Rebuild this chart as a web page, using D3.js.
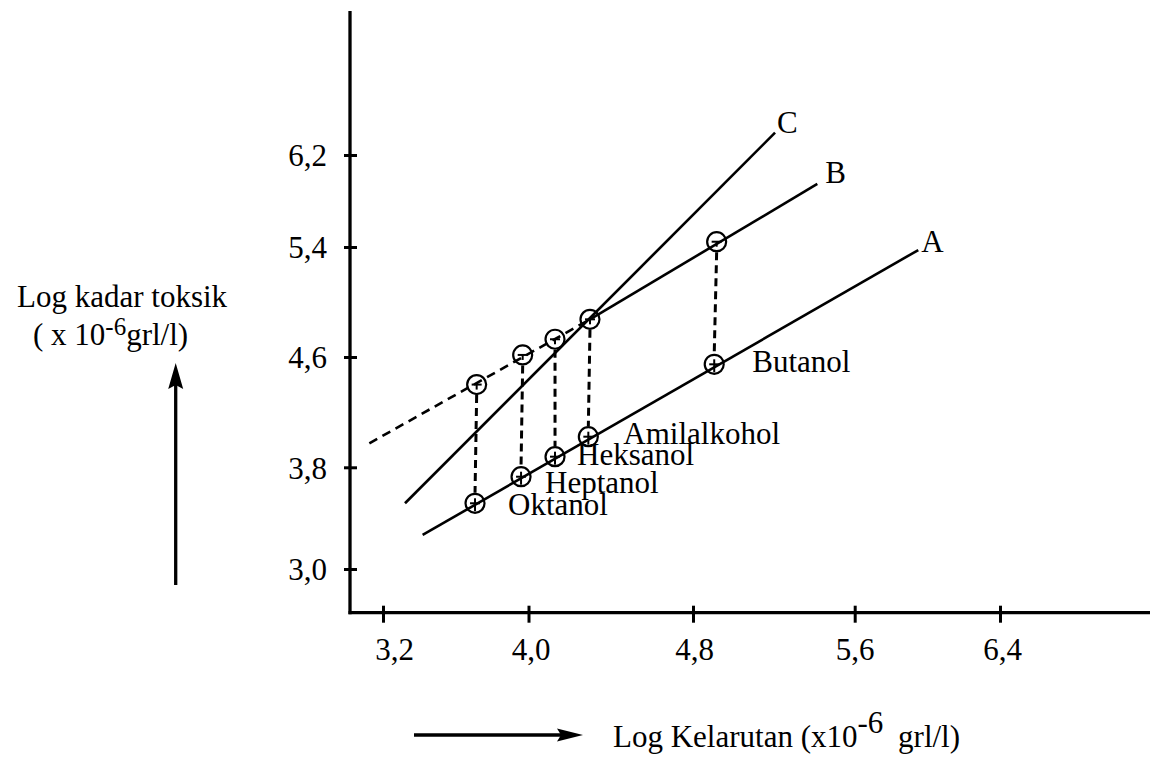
<!DOCTYPE html>
<html>
<head>
<meta charset="utf-8">
<script src="https://cdn.jsdelivr.net/npm/d3@7"></script>
<style>
  html, body { margin: 0; padding: 0; background: #fff; }
  svg { display: block; }
  text { font-family: "Liberation Serif", "DejaVu Serif", serif; fill: #000; }
</style>
</head>
<body>
<svg id="chart" width="1150" height="757"></svg>
<script>
// ---------- data ----------
const xTicks = [3.2, 4.0, 4.8, 5.6, 6.4];
const yTicks = [3.0, 3.8, 4.6, 5.4, 6.2];
const compounds = ["Oktanol", "Heptanol", "Heksanol", "Amilalkohol", "Butanol"];
// points on line B (upper, open circles)
const xUpper = [3.715, 3.968, 4.129, 4.299, 4.917];
const yUpper = [4.400, 4.615, 4.729, 4.874, 5.446];
// points on line A (lower, open circles)
const xLower = [3.706, 3.959, 4.129, 4.291, 4.905];
const yLower = [3.517, 3.726, 3.877, 4.022, 4.547];
// straight lines (start / end in data units)
const lineNames = ["A", "B", "C"];
const lineA = [[3.418, 3.268], [5.950, 5.378]];
const lineB = [[4.299, 4.874], [5.415, 5.948]];
const lineBext = [[3.125, 3.974], [4.299, 4.874]];
const lineC = [[3.321, 3.517], [5.206, 6.394]];

// ---------- layout ----------
const W = 1150, H = 757;
const axisX = 350, axisY = 612.7, axisTop = 11;
const FONT = 31;
const labelOffsets = [[33, 12], [24, 16], [22, 8], [35, 7], [38, 8]];
const lineLabelOffsets = [[3, 2], [8, -1], [2, 0]];
const xTickDx = [11, 2, 1, 0, 2];

const svg = d3.select("#chart");
svg.append("rect").attr("width", W).attr("height", H).attr("fill", "#fff");

const x = d3.scaleLinear().domain(xTicks).range([383, 528.5, 693, 854.7, 1000]);
const y = d3.scaleLinear().domain(yTicks).range([569, 467.3, 357, 247, 155]);
const fmt = d => d.toFixed(1).replace(".", ",");

// axes lines
svg.append("line").attr("x1", axisX).attr("x2", axisX).attr("y1", axisTop).attr("y2", axisY + 1.5)
  .attr("stroke", "#000").attr("stroke-width", 3.3);
svg.append("line").attr("x1", axisX - 1.5).attr("x2", W).attr("y1", axisY).attr("y2", axisY)
  .attr("stroke", "#000").attr("stroke-width", 3.3);

// x axis
const gx = svg.append("g").attr("transform", `translate(0,${axisY})`)
  .call(d3.axisBottom(x).tickValues(xTicks).tickFormat(fmt));
gx.select(".domain").remove();
gx.selectAll(".tick line").attr("y1", -7).attr("y2", 10).attr("stroke", "#000").attr("stroke-width", 3);
gx.selectAll(".tick text").attr("y", 47).attr("dy", null)
  .attr("dx", (d, i) => xTickDx[i])
  .style("font-family", '"Liberation Serif", serif').style("font-size", FONT + "px").attr("fill", "#000");

// y axis
const gy = svg.append("g").attr("transform", `translate(${axisX},0)`)
  .call(d3.axisLeft(y).tickValues(yTicks).tickFormat(fmt));
gy.select(".domain").remove();
gy.selectAll(".tick line").attr("x1", -6).attr("x2", 7).attr("stroke", "#000").attr("stroke-width", 3);
gy.selectAll(".tick text").attr("x", -23).attr("dy", "0.35em")
  .style("font-family", '"Liberation Serif", serif').style("font-size", FONT + "px").attr("fill", "#000");

// lines
const seg = (pts, dashed) => svg.append("line")
  .attr("x1", x(pts[0][0])).attr("y1", y(pts[0][1]))
  .attr("x2", x(pts[1][0])).attr("y2", y(pts[1][1]))
  .attr("stroke", "#000").attr("stroke-width", 2.6)
  .attr("stroke-dasharray", dashed ? "9,6" : null);
seg(lineA, false);
seg(lineB, false);
seg(lineBext, true);
seg(lineC, false);

// line labels
[lineA, lineB, lineC].forEach((ln, i) => {
  svg.append("text")
    .attr("x", x(ln[1][0]) + lineLabelOffsets[i][0])
    .attr("y", y(ln[1][1]) + lineLabelOffsets[i][1])
    .style("font-size", FONT + "px").text(lineNames[i]);
});

const R = 9.5;
// vertical dashed connectors
compounds.forEach((c, i) => {
  svg.append("line")
    .attr("x1", x(xUpper[i])).attr("y1", y(yUpper[i]) + R + 1)
    .attr("x2", x(xLower[i])).attr("y2", y(yLower[i]) - R - 1)
    .attr("stroke", "#000").attr("stroke-width", 3).attr("stroke-dasharray", "8,5");
});

// circles with marks
function marker(cx, cy, upper) {
  svg.append("circle").attr("cx", cx).attr("cy", cy).attr("r", R)
    .attr("fill", "none").attr("stroke", "#000").attr("stroke-width", 2.2);
  svg.append("line").attr("x1", cx - 5).attr("x2", cx + 5).attr("y1", cy).attr("y2", cy)
    .attr("stroke", "#000").attr("stroke-width", 2);
  svg.append("line").attr("x1", cx).attr("x2", cx).attr("y1", upper ? cy : cy - 5).attr("y2", cy + (upper ? 5 : 8))
    .attr("stroke", "#000").attr("stroke-width", 2);
}
compounds.forEach((c, i) => {
  marker(x(xUpper[i]), y(yUpper[i]), true);
  marker(x(xLower[i]), y(yLower[i]), false);
});

// compound labels
compounds.forEach((c, i) => {
  svg.append("text")
    .attr("x", x(xLower[i]) + labelOffsets[i][0])
    .attr("y", y(yLower[i]) + labelOffsets[i][1])
    .style("font-size", FONT + "px").text(c);
});

// y axis title
svg.append("text").attr("x", 17).attr("y", 307).style("font-size", FONT + "px").text("Log kadar toksik");
const t2 = svg.append("text").attr("x", 33).attr("y", 345).style("font-size", FONT + "px");
t2.append("tspan").text("( x 10");
t2.append("tspan").attr("dy", -10).style("font-size", "25px").text("-6");
t2.append("tspan").attr("dy", 10).text("grl/l)");

// up arrow
const ax = 175.7;
svg.append("line").attr("x1", ax).attr("x2", ax).attr("y1", 585).attr("y2", 380)
  .attr("stroke", "#000").attr("stroke-width", 3.3);
svg.append("path").attr("d", `M${ax},363 L${ax + 7.5},389 L${ax},385 L${ax - 7.5},389 Z`).attr("fill", "#000");

// x axis title
const ay = 735;
svg.append("line").attr("x1", 414).attr("x2", 565).attr("y1", ay).attr("y2", ay)
  .attr("stroke", "#000").attr("stroke-width", 3.3);
svg.append("path").attr("d", `M583,${ay} L557,${ay - 6.5} L561,${ay} L557,${ay + 6.5} Z`).attr("fill", "#000");
const t3 = svg.append("text").attr("x", 613).attr("y", 747).style("font-size", FONT + "px");
t3.append("tspan").text("Log Kelarutan (x10");
t3.append("tspan").attr("dy", -14).text("-6");
t3.append("tspan").attr("dy", 14).attr("dx", 7).text(" grl/l)");
</script>
</body>
</html>
